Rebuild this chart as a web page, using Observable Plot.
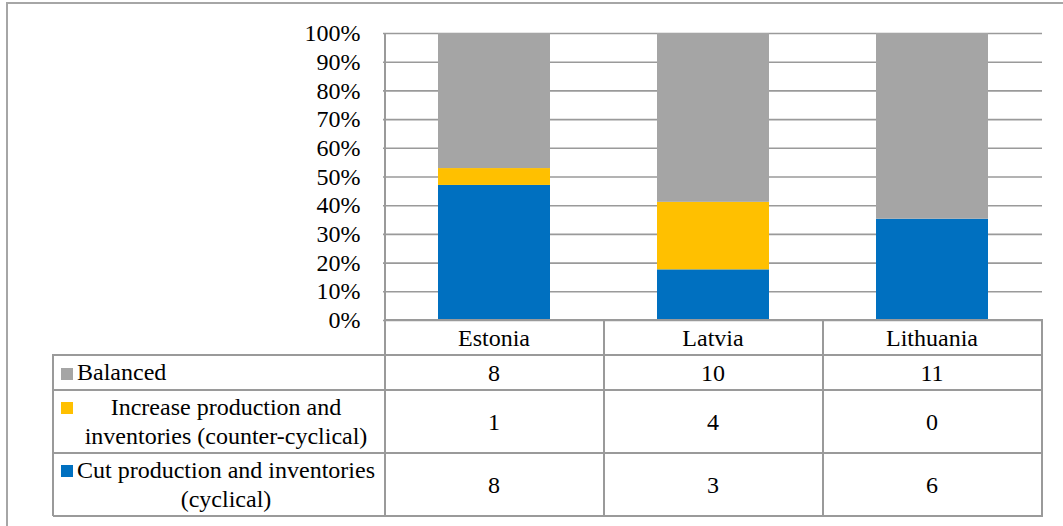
<!DOCTYPE html>
<html><head><meta charset="utf-8">
<script src="https://cdn.jsdelivr.net/npm/d3@7"></script>
<script src="https://cdn.jsdelivr.net/npm/@observablehq/plot@0.6"></script>
<style>
 #w { position: relative; width: 1063px; height: 526px; overflow: hidden; font-family: 'Liberation Serif', serif; }
 .ln { position: absolute; background: #9a9a9a; }
 .cell { position: absolute; display: flex; align-items: center; justify-content: center; line-height: 28px; white-space: nowrap; font-family: 'Liberation Serif', serif; }
 .lab { position: absolute; line-height: 29px; white-space: nowrap; font-family: 'Liberation Serif', serif; }
 .sw { position: absolute; width: 12px; height: 12px; }
</style>
</head><body style="font-size:24px;margin:0">
<div id="w"><div style="position:absolute;left:6px;top:2px;width:1200px;height:700px;border:2px solid #a6a6a6;box-sizing:border-box"></div></div>
<script>
// ---- data ----
const countries = ["Estonia", "Latvia", "Lithuania"];
const seriesNames = ["Cut production and inventories (cyclical)", "Increase production and inventories (counter-cyclical)", "Balanced"];
const seriesColors = ["#0070C0", "#FFC000", "#A5A5A5"];
const cutValues = [8, 3, 6];
const increaseValues = [1, 4, 0];
const balancedValues = [8, 10, 11];
const yTicks = [0, 0.1, 0.2, 0.3, 0.4, 0.5, 0.6, 0.7, 0.8, 0.9, 1.0];
const tableRows = [
  {series: "Balanced", values: balancedValues, lines: ["Balanced"], align: "left"},
  {series: "Increase production and inventories (counter-cyclical)", values: increaseValues, lines: ["Increase production and", "inventories (counter-cyclical)"], align: "center"},
  {series: "Cut production and inventories (cyclical)", values: cutValues, lines: ["Cut production and inventories", "(cyclical)"], align: "center"}
];

const seriesValues = [cutValues, increaseValues, balancedValues];
const data = [];
seriesNames.forEach((s, si) => countries.forEach((c, ci) => data.push({country: c, series: s, value: seriesValues[si][ci]})));

const w = document.getElementById("w");
const p = Plot.plot({
  width: 1063, height: 526,
  marginTop: 33, marginLeft: 383, marginRight: 21, marginBottom: 206,
  style: {fontFamily: "'Liberation Serif', serif", fontSize: "24px"},
  x: {domain: countries, paddingInner: 0.49, paddingOuter: 0.245, axis: null},
  y: {domain: [0, 1], ticks: yTicks, tickFormat: d3.format(".0%"), tickSize: 0, tickPadding: 23, label: null},
  color: {domain: seriesNames, range: seriesColors},
  marks: [
    Plot.ruleY(yTicks, {stroke: "#9a9a9a", strokeWidth: 1.6}),
    Plot.barY(data, Plot.stackY({offset: "normalize", order: seriesNames, x: "country", y: "value", fill: "series"}))
  ]
});
const holder = document.createElement("div");
holder.style.position = "absolute"; holder.style.top = "0px"; holder.style.left = "0px";
holder.appendChild(p);
w.appendChild(holder);

const xs = p.scale("x");
const ys = p.scale("y");
const step = xs.step, bw = xs.bandwidth;
const colLeft = c => xs.apply(c) - (step - bw) / 2;
const plotLeft = colLeft(countries[0]);
const plotRight = colLeft(countries[countries.length - 1]) + step;
const y0 = ys.apply(0), y1 = ys.apply(1);
const tableLeft = 53;
const rowEdges = [y0, 355, 390, 453, 516];

function add(cls, css, txt) {
  const d = document.createElement("div");
  d.className = cls;
  Object.assign(d.style, css);
  if (txt != null) d.textContent = txt;
  w.appendChild(d);
  return d;
}
const px = v => v + "px";
function line(x, y, ww, h) { add("ln", {left: px(x), top: px(y), width: px(ww), height: px(h)}); }
function cell(x, y, ww, h, text) { add("cell", {left: px(x), top: px(y), width: px(ww), height: px(h)}, text); }

line(plotLeft - 1, y1, 2, rowEdges[4] - y1 + 1);
line(plotLeft, y0 - 1, plotRight - plotLeft + 1, 2);
for (let i = 1; i < rowEdges.length; i++) line(tableLeft, rowEdges[i] - 1, plotRight - tableLeft + 1, 2);
line(tableLeft - 1, rowEdges[1] - 1, 2, rowEdges[4] - rowEdges[1] + 1);
countries.forEach(c => line(colLeft(c) + step - 1, y0 - 1, 2, rowEdges[4] - y0 + 1));
countries.forEach(c => cell(colLeft(c), y0, step, rowEdges[1] - y0, c));
tableRows.forEach((r, ri) => {
  const top = rowEdges[ri + 1], bot = rowEdges[ri + 2];
  countries.forEach((c, ci) => cell(colLeft(c), top, step, bot - top, String(r.values[ci])));
  const lh = 29;
  const textTop = top + (bot - top - r.lines.length * lh) / 2;
  add("sw", {left: "61px", top: px(textTop + lh / 2 - 5), background: seriesColors[seriesNames.indexOf(r.series)]});
  const lab = add("lab", {left: "77px", top: px(textTop), width: "298px", textAlign: r.align});
  r.lines.forEach((t, i) => {
    if (i) lab.appendChild(document.createElement("br"));
    lab.appendChild(document.createTextNode(t));
  });
});
</script>
</body></html>
